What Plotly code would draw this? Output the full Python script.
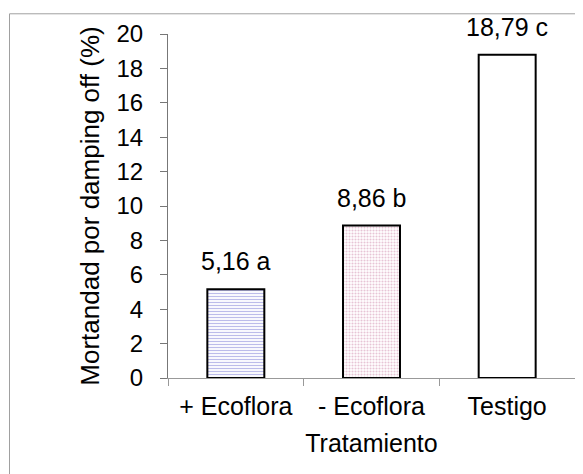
import plotly.graph_objects as go

categories = ["+ Ecoflora", "- Ecoflora", "Testigo"]
values = [5.16, 8.86, 18.79]
labels = ["5,16 a", "8,86 b", "18,79 c"]
y_ticks = [0, 2, 4, 6, 8, 10, 12, 14, 16, 18, 20]

pattern_shapes = ["-", ".", ""]
pattern_colors = ["#7a7ad6", "#d08aac", "#ffffff"]

W, H = 583, 474
L, R, T, B = 160, 16, 21, 104
pw, ph = W - L - R, H - T - B
FONT = "Liberation Sans, Arial"

fig = go.Figure()
for c, v, shp, col in zip(categories, values, pattern_shapes, pattern_colors):
    fig.add_trace(go.Bar(
        x=[c], y=[v], width=0.42,
        marker=dict(
            color="white",
            line=dict(color="black", width=2),
            pattern=dict(shape=shp, fgcolor=col, bgcolor="white", size=3, solidity=0.4),
        ),
        hoverinfo="skip",
    ))
for c, v, t in zip(categories, values, labels):
    fig.add_annotation(x=c, y=v, text=t, showarrow=False, yanchor="bottom", yshift=12,
                       font=dict(family=FONT, size=25, color="black"))

fig.add_shape(type="rect", xref="paper", yref="paper",
              x0=(1.5 - L) / pw, x1=1.3, y0=-0.6, y1=(H - B - 0.5) / ph,
              line=dict(color="#a0a0a0", width=1), layer="below")

fig.update_layout(
    width=W, height=H,
    margin=dict(l=L, r=R, t=T, b=B),
    paper_bgcolor="white", plot_bgcolor="white",
    showlegend=False, barmode="overlay",
    font=dict(family=FONT, size=24, color="black"),
    xaxis=dict(showline=True, linecolor="#999999", linewidth=1, ticks="outside",
               tickson="boundaries", ticklen=7, tickcolor="#999999",
               ticklabelstandoff=6,
               title=dict(text="Tratamiento", standoff=15, font=dict(size=25)),
               tickfont=dict(size=25), showgrid=False),
    yaxis=dict(range=[0, 20], tickvals=y_ticks, showline=True, linecolor="#777777",
               linewidth=1, ticks="outside", ticklen=7, tickcolor="#777777",
               ticklabelstandoff=12,
               showgrid=False, zeroline=False,
               title=dict(text="Mortandad por damping off (%)", standoff=9, font=dict(size=26)),
               tickfont=dict(size=24)),
)
fig.write_html("out.html")
